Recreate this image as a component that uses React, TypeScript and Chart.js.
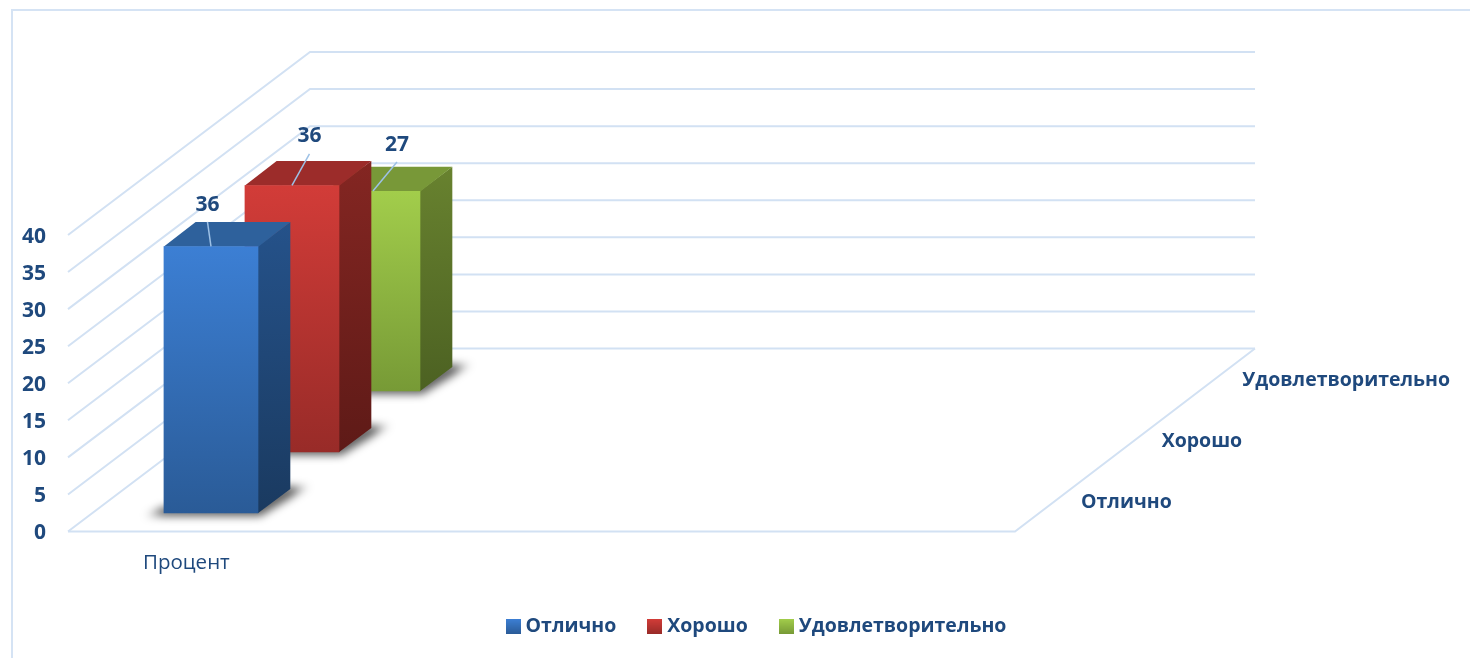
import React, { useEffect, useRef } from "react";
import { Chart, registerables } from "chart.js";

Chart.register(...registerables);

const categories = ["Процент", "", "", ""];
const seriesNames = ["Отлично", "Хорошо", "Удовлетворительно"];
const excellent = [36];
const good = [36];
const satisfactory = [27];
const yTicksMax = 40;
const yTicksStep = 5;

const TEXT = "#1F497D";
const GRID = "#D2E1F3";
const FONT = "'Open Sans', sans-serif";

const frontFaces = [["#3C7FD4", "#2A5B97"], ["#D23C38", "#982B28"], ["#A2CD4B", "#779A36"]];
const sideFaces = [["#25528A", "#1A3A60"], ["#842622", "#5E1A17"], ["#68822F", "#4C6122"]];
const topFaces = ["#2E619C", "#9C2C2A", "#789838"];
const labelOffsets = [[-3.5, -41.5], [17.5, -49], [24, -46]];
const leaderStarts = [[-3.5, -24.5], [17.5, -31.5], [24, -29]];

const DEPTH_X = 242;
const DEPTH_Y = 183;
const BACK_RIGHT_TRIM = 2;
const STEP_X = DEPTH_X / seriesNames.length;
const STEP_Y = DEPTH_Y / seriesNames.length;
const BAR_DX = 32;
const BAR_DY = 24.3;

const frontBar = (meta: any) => meta.data[0];
const layerOffset = (i: number) => [24.6 + i * 81, -18.3 - i * 61];

const poly = (ctx: CanvasRenderingContext2D, pts: number[][]) => {
  ctx.beginPath();
  pts.forEach(([x, y], k) => (k ? ctx.lineTo(x, y) : ctx.moveTo(x, y)));
  ctx.closePath();
};

const scene3d = {
  id: "scene3d",
  afterLayout(chart: any) {
    const legend = chart.legend;
    const h = legend.bottom - legend.top;
    legend.left = 46.75;
    legend.right = 1470;
    legend.top = 581;
    legend.bottom = legend.top + h;
  },
  beforeDatasetsDraw(chart: any) {
    const { ctx, chartArea, scales } = chart;
    const { left, right } = chartArea;
    ctx.save();
    ctx.strokeStyle = "#D5E3F4";
    ctx.lineWidth = 2;
    ctx.strokeRect(12, 10, 1480, 680);
    ctx.strokeStyle = GRID;
    ctx.lineWidth = 2;
    ctx.lineJoin = "miter";
    const backRight = right + DEPTH_X - BACK_RIGHT_TRIM;
    scales.y.ticks.forEach((t: any) => {
      const y = scales.y.getPixelForValue(t.value);
      ctx.beginPath();
      ctx.moveTo(left, y);
      ctx.lineTo(left + DEPTH_X, y - DEPTH_Y);
      ctx.lineTo(backRight, y - DEPTH_Y);
      ctx.stroke();
    });
    const y0 = scales.y.getPixelForValue(0);
    ctx.beginPath();
    ctx.moveTo(left, y0);
    ctx.lineTo(right, y0);
    ctx.lineTo(backRight, y0 - DEPTH_Y);
    ctx.stroke();

    ctx.fillStyle = TEXT;
    ctx.font = `bold 19.5px ${FONT}`;
    ctx.textBaseline = "middle";
    ctx.textAlign = "left";
    chart.data.datasets.forEach((d: any, i: number) => {
      ctx.fillText(d.label, right + (i + 0.5) * STEP_X + 25.7, y0 - (i + 0.5) * STEP_Y + 1);
    });
    ctx.restore();
  },
  beforeDatasetDraw(chart: any, args: any) {
    const { ctx } = chart;
    const i = args.index;
    const bar = frontBar(args.meta);
    const [ox, oy] = layerOffset(i);
    ctx.save();
    ctx.translate(ox, oy);
    const L = bar.x - bar.width / 2;
    const R = bar.x + bar.width / 2;
    const T = bar.y;
    const B = bar.base;

    // ground shadow
    ctx.save();
    const sg = ctx.createLinearGradient(L - 22, 0, R + BAR_DX + 22, 0);
    const span = R + BAR_DX + 22 - (L - 22);
    sg.addColorStop(0, "rgba(0,0,0,0)");
    sg.addColorStop(22 / span, "rgba(0,0,0,0.62)");
    sg.addColorStop((R + BAR_DX - L + 22) / span, "rgba(0,0,0,0.62)");
    sg.addColorStop(1, "rgba(0,0,0,0)");
    ctx.filter = "blur(4px)";
    ctx.fillStyle = sg;
    poly(ctx, [
      [L - 20, B + 3],
      [R + 2, B + 3],
      [R + BAR_DX + 20, B - BAR_DY - 3],
      [R + BAR_DX - 4, B - BAR_DY - 3],
      [R - 10, B - 10],
      [L - 2, B - 6],
    ]);
    ctx.fill();
    ctx.restore();

    // side face
    const side = ctx.createLinearGradient(0, T - BAR_DY, 0, B);
    side.addColorStop(0, sideFaces[i][0]);
    side.addColorStop(1, sideFaces[i][1]);
    ctx.fillStyle = side;
    poly(ctx, [[R - 0.5, T], [R + BAR_DX, T - BAR_DY], [R + BAR_DX, B - BAR_DY], [R - 0.5, B]]);
    ctx.fill();

    // top face
    ctx.fillStyle = topFaces[i];
    poly(ctx, [[L, T + 0.5], [L + BAR_DX, T - BAR_DY], [R + BAR_DX, T - BAR_DY], [R, T + 0.5]]);
    ctx.fill();
  },
  afterDatasetDraw(chart: any) {
    chart.ctx.restore();
  },
  afterDatasetsDraw(chart: any) {
    const { ctx } = chart;
    ctx.save();
    chart.data.datasets.forEach((d: any, i: number) => {
      const bar = frontBar(chart.getDatasetMeta(i));
      const [ox, oy] = layerOffset(i);
      const cx = bar.x + ox;
      const cy = bar.y + oy;
      ctx.strokeStyle = "#9DC1E6";
      ctx.lineWidth = 1.5;
      ctx.beginPath();
      ctx.moveTo(cx, cy);
      ctx.lineTo(cx + leaderStarts[i][0], cy + leaderStarts[i][1]);
      ctx.stroke();
      ctx.fillStyle = TEXT;
      ctx.font = `bold 21px ${FONT}`;
      ctx.textAlign = "center";
      ctx.textBaseline = "middle";
      ctx.fillText(String(d.data[0]), cx + labelOffsets[i][0], cy + labelOffsets[i][1]);
    });
    ctx.restore();
  },
};

const makeSwatch = (i: number) => {
  const c = document.createElement("canvas");
  c.width = 15;
  c.height = 15;
  const g = c.getContext("2d")!;
  const gr = g.createLinearGradient(0, 0, 0, 15);
  gr.addColorStop(0, frontFaces[i][0]);
  gr.addColorStop(1, frontFaces[i][1]);
  g.fillStyle = gr;
  g.fillRect(0, 0, 15, 15);
  return c;
};

export default function App() {
  const ref = useRef<HTMLCanvasElement>(null);
  useEffect(() => {
    const faceFill = (i: number) => (c: any) => {
      const y = c.chart.scales?.y;
      if (!y || c.raw == null) return frontFaces[i][0];
      const g = c.chart.ctx.createLinearGradient(0, y.getPixelForValue(c.raw), 0, y.getPixelForValue(0));
      g.addColorStop(0, frontFaces[i][0]);
      g.addColorStop(1, frontFaces[i][1]);
      return g;
    };
    const values = [excellent, good, satisfactory];
    const swatches = seriesNames.map((_, i) => makeSwatch(i));
    const chart = new Chart(ref.current!, {
      type: "bar",
      data: {
        labels: categories,
        datasets: seriesNames.map((name, i) => ({
          label: name,
          data: values[i],
          backgroundColor: faceFill(i),
          borderWidth: 0,
          clip: false as any,
          grouped: false,
          categoryPercentage: 1,
          barPercentage: 0.4,
        })),
      },
      options: {
        responsive: false,
        animation: false,
        layout: { padding: { top: 235, left: 0, right: 455, bottom: 0 } },
        scales: {
          x: {
            grid: { display: false, drawTicks: false },
            border: { display: false },
            ticks: {
              autoSkip: false,
              maxRotation: 0,
              padding: 19,
              color: TEXT,
              font: { family: FONT, size: 20.5 },
            },
            afterFit(s: any) {
              s.height = 61.25;
            },
          },
          y: {
            min: 0,
            max: yTicksMax,
            grid: { display: false, drawTicks: false },
            border: { display: false },
            ticks: {
              stepSize: yTicksStep,
              padding: 22,
              labelOffset: 2,
              color: TEXT,
              font: { family: FONT, size: 21, weight: "bold" },
            },
            afterFit(s: any) {
              s.width = 68;
            },
          },
        },
        plugins: {
          tooltip: { enabled: false },
          title: { display: false },
          legend: {
            display: true,
            position: "bottom",
            labels: {
              usePointStyle: true,
              boxWidth: 5.5,
              boxHeight: 15,
              padding: 35.75,
              color: TEXT,
              font: { family: FONT, size: 19.5, weight: "bold" },
              generateLabels: (ch: any) =>
                ch.data.datasets.map((d: any, i: number) => ({
                  text: d.label,
                  pointStyle: swatches[i],
                  datasetIndex: i,
                  hidden: false,
                  lineWidth: 0,
                  fontColor: TEXT,
                })),
            },
          },
        },
      },
      plugins: [scene3d],
    } as any);
    return () => chart.destroy();
  }, []);
  return (
    <div style={{ width: 1470, height: 658, overflow: "hidden", position: "fixed", left: 0, top: 0, background: "#fff" }}>
      <canvas ref={ref} width={1470} height={658} style={{ display: "block", width: 1470, height: 658 }} />
    </div>
  );
}
